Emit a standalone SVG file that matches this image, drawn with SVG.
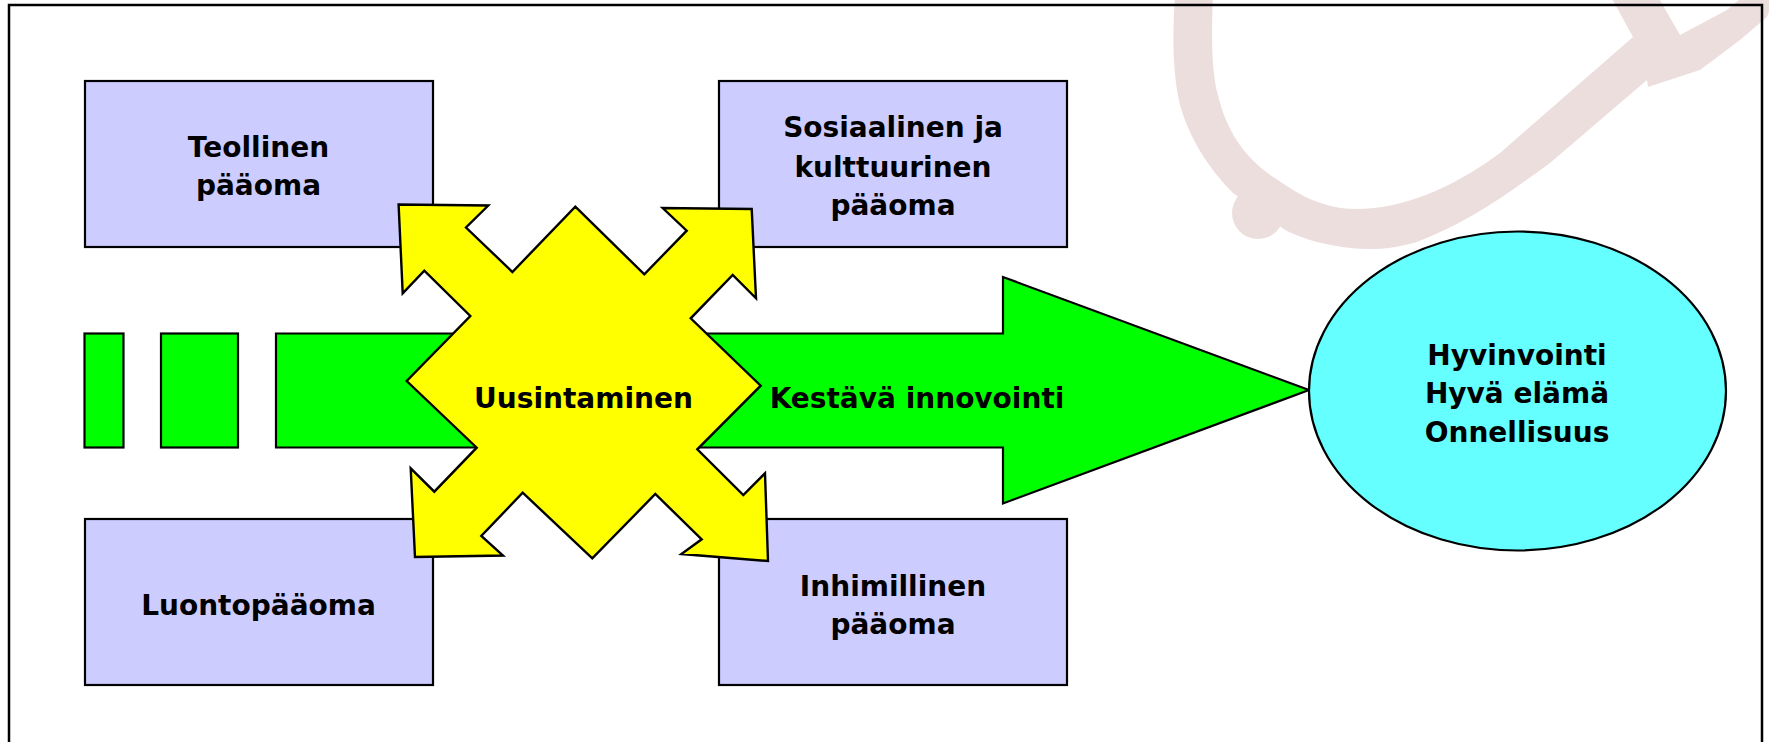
<svg xmlns="http://www.w3.org/2000/svg" width="1769" height="742" viewBox="0 0 1769 742">
<style>
  .wmf { fill: #EDDEDE; stroke: none; }
  .box { fill: #CCCCFF; stroke: #000; stroke-width: 2.2; }
  .grn { fill: #00FF00; stroke: #000; stroke-width: 2.2; stroke-linejoin: miter; }
  .yel { fill: #FFFF00; stroke: #000; stroke-width: 2.4; stroke-linejoin: miter; }
  .ell { fill: #66FFFF; stroke: #000; stroke-width: 2.2; }
  text { font-family: "DejaVu Sans", "Liberation Sans", sans-serif; font-weight: bold; font-size: 28px; fill: #000; text-anchor: middle; }
</style>
<rect x="0" y="0" width="1769" height="742" fill="#FFFFFF"/>
<g id="watermark">
  <path class="wmf" d="M 1175,-5 L 1213,-5 C 1211,40 1212,75 1218,95 C 1226,130 1245,160 1278,180 C 1300,196 1325,209 1357,209 C 1400,209 1450,190 1500,153 L 1633,37 L 1610,-5 L 1657,-5 L 1680,35 L 1727,10 L 1745,-5 L 1775,-5 L 1767,17 L 1740,40 L 1700,70 L 1648,87 L 1647,80 L 1550,163 C 1510,192 1470,222 1417,242 C 1390,250 1370,250 1350,248 C 1325,245 1305,240 1285,230 L 1233,193 C 1210,170 1190,140 1180,105 C 1173,75 1172,40 1175,-5 Z"/>
  <circle class="wmf" cx="1258" cy="213" r="26"/>
</g>
<path id="frame" d="M 9,760 L 9,5 L 1762,5 L 1762,760" fill="none" stroke="#000" stroke-width="2.5"/>
<g id="teollinen">
  <rect class="box" x="85" y="81" width="348" height="166"/>
  <text x="258.5" y="157">Teollinen</text>
  <text x="258.5" y="195">pääoma</text>
</g>
<g id="sosiaalinen">
  <rect class="box" x="719" y="81" width="348" height="166"/>
  <text x="893" y="137">Sosiaalinen ja</text>
  <text x="893" y="176.5">kulttuurinen</text>
  <text x="893" y="215">pääoma</text>
</g>
<g id="luontopaaoma">
  <rect class="box" x="85" y="519" width="348" height="166"/>
  <text x="258.5" y="615">Luontopääoma</text>
</g>
<g id="inhimillinen">
  <rect class="box" x="719" y="519" width="348" height="166"/>
  <text x="893" y="595.5">Inhimillinen</text>
  <text x="893" y="633.5">pääoma</text>
</g>
<g id="kestava-innovointi">
  <rect class="grn" x="84.5" y="333.5" width="39" height="114"/>
  <rect class="grn" x="161" y="333.5" width="77" height="114"/>
  <polygon class="grn" points="276,333.5 1003,333.5 1003,277 1309,390 1003,503.5 1003,447.5 276,447.5"/>
</g>
<g id="uusintaminen">
  <polygon class="yel" points="575.3,206.7 644.3,274.3 686.7,230.7 662.7,208 751.7,209 756,298.3 732.7,275 690.7,318.3 760.7,385.7 697.3,449.3 743.3,495 765,473.3 768,561 681.4,554 701.7,539.3 655.3,494 592.3,558.3 522.7,492.7 481.3,536 503,555.5 415,557 410.7,468.3 434.3,491.7 476.7,447.7 406.7,381 470.3,316 424.3,270.7 402.7,293.3 398.6,204.5 488.3,205.5 466,227.5 512.4,272"/>
  <text x="583.5" y="408.3">Uusintaminen</text>
</g>
<text id="label-kestava" x="917" y="408.3">Kestävä innovointi</text>
<g id="hyvinvointi">
  <ellipse class="ell" cx="1517.5" cy="391" rx="208.5" ry="159.5"/>
  <text x="1517" y="365">Hyvinvointi</text>
  <text x="1517" y="403.3">Hyvä elämä</text>
  <text x="1517" y="441.7">Onnellisuus</text>
</g>
</svg>
